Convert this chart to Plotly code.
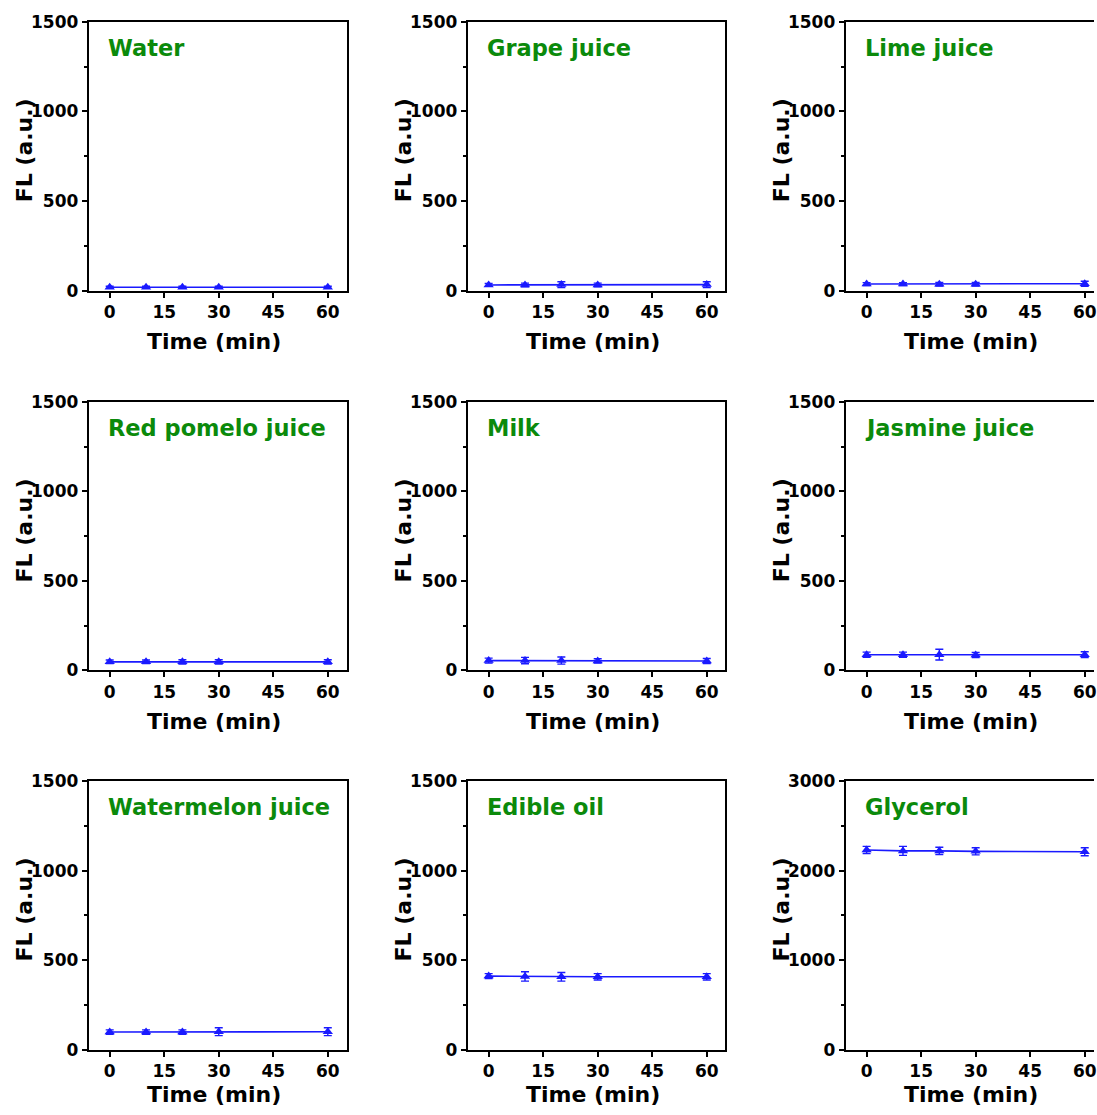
import plotly.graph_objects as go

# Sampling times (min)
time_min = [0, 10, 20, 30, 60]

# Sample names shown in each panel (row-major order)
samples = ["Water", "Grape juice", "Lime juice",
           "Red pomelo juice", "Milk", "Jasmine juice",
           "Watermelon juice", "Edible oil", "Glycerol"]

# Fluorescence means (a.u.)
fl_water = [20, 20, 20, 20, 20]
fl_grape = [33, 33, 35, 33, 35]
fl_lime = [38, 38, 37, 37, 40]
fl_pomelo = [48, 48, 48, 48, 48]
fl_milk = [55, 55, 55, 53, 53]
fl_jasmine = [88, 88, 88, 86, 88]
fl_watermelon = [100, 100, 100, 102, 102]
fl_oil = [412, 410, 408, 408, 408]
fl_glycerol = [2230, 2220, 2220, 2215, 2210]

# Standard deviations (a.u.)
sd_water = [6, 6, 6, 6, 6]
sd_grape = [8, 10, 16, 10, 16]
sd_lime = [8, 8, 10, 10, 14]
sd_pomelo = [10, 10, 12, 12, 12]
sd_milk = [14, 18, 20, 12, 14]
sd_jasmine = [14, 14, 30, 14, 16]
sd_watermelon = [12, 12, 12, 22, 22]
sd_oil = [14, 26, 24, 18, 18]
sd_glycerol = [40, 50, 40, 40, 45]

# Y-axis limits and major tick step per panel
y_max = [1500] * 8 + [3000]
y_step = [500] * 8 + [1000]

x_ticks = [0, 15, 30, 45, 60]

means = [fl_water, fl_grape, fl_lime, fl_pomelo, fl_milk, fl_jasmine,
         fl_watermelon, fl_oil, fl_glycerol]
sds = [sd_water, sd_grape, sd_lime, sd_pomelo, sd_milk, sd_jasmine,
       sd_watermelon, sd_oil, sd_glycerol]

W, H = 1097, 1115
FONT = "DejaVu Sans"
GREEN = "#0b8a0b"
BLUE = "#1a1aff"

# Panel frames in figure pixels
col_left = [89, 469, 848]
col_right = [348, 727, 1097]
row_top = [12, 399, 785]
row_bot = [286, 672.5, 1059]
px_per_min = 3.645  # horizontal scale shared by all panels
x0_px = [110, 490, 869]  # pixel of t = 0 in each column

fig = go.Figure()
layout = {}
annotations = []

for i in range(9):
    r, c = divmod(i, 3)
    n = i + 1
    xa = "x" if n == 1 else f"x{n}"
    ya = "y" if n == 1 else f"y{n}"
    xkey = "xaxis" if n == 1 else f"xaxis{n}"
    ykey = "yaxis" if n == 1 else f"yaxis{n}"

    fig.add_trace(go.Scatter(
        x=time_min, y=means[i], xaxis=xa, yaxis=ya,
        mode="lines+markers",
        line=dict(color=BLUE, width=1.6),
        marker=dict(symbol="triangle-up", size=9, color=BLUE),
        error_y=dict(type="data", array=sds[i], visible=True,
                     color=BLUE, thickness=1.4, width=4),
        showlegend=False, cliponaxis=False,
    ))

    xlo = (col_left[c] - x0_px[c]) / px_per_min
    xhi = (col_right[c] - x0_px[c]) / px_per_min
    layout[xkey] = dict(
        domain=[col_left[c] / W, col_right[c] / W],
        anchor=ya, range=[xlo, xhi],
        tickvals=x_ticks, ticks="outside", ticklen=5, tickwidth=2,
        tickcolor="black", ticklabeloverflow="allow",
        showline=True, linecolor="black", linewidth=2, mirror=True,
        showgrid=False, zeroline=False,
        tickfont=dict(family=FONT, size=17, color="black", weight="bold"),
    )
    layout[ykey] = dict(
        domain=[1 - row_bot[r] / H, 1 - row_top[r] / H],
        anchor=xa, range=[0, y_max[i]], dtick=y_step[i], tick0=0,
        ticks="outside", ticklen=5, tickwidth=2, tickcolor="black",
        ticklabeloverflow="allow",
        minor=dict(ticks="outside", ticklen=3, tickwidth=1.5,
                   dtick=y_step[i] / 2, tickcolor="black"),
        showline=True, linecolor="black", linewidth=2,
        mirror=(c < 2),
        showgrid=False, zeroline=False,
        tickfont=dict(family=FONT, size=17, color="black", weight="bold"),
    )

    # Sample name inside the panel
    annotations.append(dict(
        text=samples[i], xref="paper", yref="paper",
        x=(col_left[c] + 17) / W, y=1 - (row_top[r] + 27) / H,
        xanchor="left", yanchor="middle", showarrow=False,
        font=dict(family=FONT, size=22.5, color=GREEN, weight="bold"),
    ))
    # Axis titles
    time_y = min(row_bot[r] + 52, 1104)
    annotations.append(dict(
        text="Time (min)", xref="paper", yref="paper",
        x=(col_left[c] + 126) / W, y=1 - time_y / H,
        xanchor="center", yanchor="middle", showarrow=False,
        font=dict(family=FONT, size=22, color="black", weight="bold"),
    ))
    annotations.append(dict(
        text="FL (a.u.)", xref="paper", yref="paper",
        x=(col_left[c] - 64) / W, y=1 - (row_top[r] + 131) / H,
        xanchor="center", yanchor="middle", showarrow=False, textangle=-90,
        font=dict(family=FONT, size=22, color="black", weight="bold"),
    ))

fig.update_layout(
    **layout,
    annotations=annotations,
    width=W, height=H,
    margin=dict(l=0, r=0, t=0, b=0),
    paper_bgcolor="white", plot_bgcolor="white",
)

fig.write_html("out.html")
